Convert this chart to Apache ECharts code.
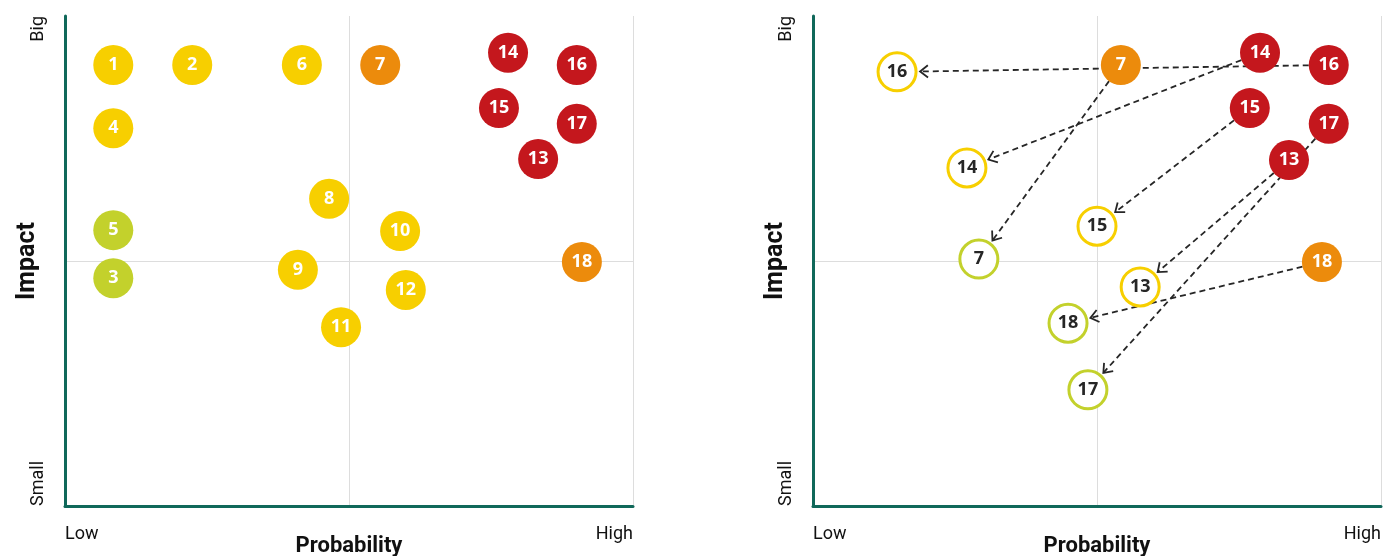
<!DOCTYPE html>
<html lang="en">
<head>
<meta charset="UTF-8">
<title>Risk matrix</title>
<script src="https://cdn.jsdelivr.net/npm/echarts@6/dist/echarts.min.js"></script>
<style>html,body{margin:0;padding:0;background:#fff}</style>
</head>
<body>
<div id="main" style="width:1386px;height:556px"></div>
<script>
    // left matrix: current risks
    const leftIds = ['1', '2', '3', '4', '5', '6', '7', '8', '9', '10', '11', '12', '13', '14', '15', '16', '17', '18'];
    const leftProb = [0.85, 2.24, 0.85, 0.85, 0.85, 4.17, 5.55, 4.65, 4.10, 5.90, 4.86, 6.00, 8.33, 7.80, 7.64, 9.01, 9.01, 9.10];
    const leftImpact = [9.0, 9.0, 4.65, 7.71, 5.63, 9.0, 9.0, 6.27, 4.82, 5.61, 3.65, 4.41, 7.08, 9.25, 8.12, 9.0, 7.80, 4.98];
    const leftLevel = ['medium', 'medium', 'low', 'medium', 'low', 'medium', 'high', 'medium', 'medium', 'medium',
        'medium', 'medium', 'critical', 'critical', 'critical', 'critical', 'critical', 'high'];

    // right matrix: before -> after mitigation
    const moveIds = ['16', '14', '7', '15', '13', '17', '18'];
    const beforeProb = [9.08, 7.87, 5.42, 7.69, 8.38, 9.08, 8.96];
    const beforeImpact = [9.0, 9.25, 9.0, 8.12, 7.06, 7.80, 4.98];
    const beforeLevel = ['critical', 'critical', 'high', 'critical', 'critical', 'critical', 'high'];
    const afterProb = [1.48, 2.71, 2.92, 5.0, 5.76, 4.84, 4.49];
    const afterImpact = [8.86, 6.90, 5.04, 5.71, 4.47, 2.37, 3.73];
    const afterLevel = ['medium', 'medium', 'low', 'medium', 'medium', 'low', 'low'];

    const probTicks = ['Low', '', 'High'];
    const impactTicks = ['Small', '', 'Big'];

    const COLORS = {low: '#c3d12c', medium: '#f7cf00', high: '#ec8b0c', critical: '#c4171d'};
    const AXIS = '#10685a';
    const DARK = '#262626';

    function xAxisFor(gridIndex) {
        return {
            gridIndex: gridIndex, type: 'value', min: 0, max: 10, interval: 5,
            name: 'Probability', nameLocation: 'middle', nameGap: 29, nameMoveOverlap: false,
            nameTextStyle: {fontFamily: 'Roboto', fontWeight: 'bold', fontSize: 22, color: '#111'},
            axisLine: {show: true, onZero: false, lineStyle: {color: AXIS, width: 3}},
            axisTick: {show: false},
            axisLabel: {
                margin: 19, fontFamily: 'Roboto', fontSize: 18, color: '#111',
                alignMinLabel: 'left', alignMaxLabel: 'right',
                formatter: v => probTicks[Math.round(v / 5)]
            },
            splitLine: {show: true, lineStyle: {color: '#dddddd', width: 1}}
        };
    }

    function yAxisFor(gridIndex) {
        return {
            gridIndex: gridIndex, type: 'value', min: 0, max: 10, interval: 5,
            name: 'Impact', nameLocation: 'middle', nameGap: 25, nameMoveOverlap: false,
            nameTextStyle: {fontFamily: 'Roboto', fontWeight: 'bold', fontSize: 25, color: '#111'},
            axisLine: {show: true, onZero: false, lineStyle: {color: AXIS, width: 3}},
            axisTick: {show: false},
            axisLabel: {
                margin: 18, rotate: 90, fontFamily: 'Roboto', fontSize: 18, color: '#111',
                alignMinLabel: 'left', alignMaxLabel: 'right',
                formatter: v => impactTicks[Math.round(v / 5)]
            },
            splitLine: {show: true, showMaxLine: false, lineStyle: {color: '#dddddd', width: 1}}
        };
    }

    function pointsOf(ids, xs, ys, levels, hollow) {
        return ids.map((id, i) => ({
            value: [xs[i], ys[i], id],
            itemStyle: hollow
                ? {opacity: 1, color: '#fff', borderColor: COLORS[levels[i]], borderWidth: 3}
                : {opacity: 1, color: COLORS[levels[i]]}
        }));
    }

    // dashed line with an open chevron, stopping just outside the target circle
    function renderArrow(params, api) {
        const p1 = api.coord([api.value(0), api.value(1)]);
        const p2 = api.coord([api.value(2), api.value(3)]);
        const dx = p2[0] - p1[0], dy = p2[1] - p1[1];
        const len = Math.sqrt(dx * dx + dy * dy);
        const ux = dx / len, uy = dy / len;
        const tip = [p2[0] - ux * 23, p2[1] - uy * 23];
        const a = 10, ang = 38 * Math.PI / 180;
        const c = Math.cos(ang), s = Math.sin(ang);
        const bx = -ux, by = -uy;
        const arm1 = [tip[0] + a * (bx * c - by * s), tip[1] + a * (bx * s + by * c)];
        const arm2 = [tip[0] + a * (bx * c + by * s), tip[1] + a * (-bx * s + by * c)];
        return {
            type: 'group',
            children: [
                {type: 'line', shape: {x1: p1[0], y1: p1[1], x2: tip[0], y2: tip[1]},
                    style: {stroke: DARK, lineWidth: 1.8, lineDash: [6, 4]}},
                {type: 'polyline', shape: {points: [arm1, tip, arm2]},
                    style: {stroke: DARK, lineWidth: 1.8, fill: null}}
            ]
        };
    }

    const labelStyle = {show: true, position: 'inside', formatter: p => p.value[2],
        fontFamily: 'Open Sans', fontWeight: 'bold', fontSize: 18, color: '#fff'};

    const chart = echarts.init(document.getElementById('main'));
    const option = {
        animation: false,
        grid: [
            {left: 65, top: 16, width: 568, height: 490, containLabel: false, outerBoundsMode: 'none'},
            {left: 813, top: 16, width: 568, height: 490, containLabel: false, outerBoundsMode: 'none'}
        ],
        xAxis: [xAxisFor(0), xAxisFor(1)],
        yAxis: [yAxisFor(0), yAxisFor(1)],
        series: [
            {
                type: 'scatter', xAxisIndex: 0, yAxisIndex: 0, z: 3,
                symbolSize: 40, itemStyle: {opacity: 1},
                data: pointsOf(leftIds, leftProb, leftImpact, leftLevel, false),
                label: labelStyle
            },
            {
                type: 'custom', xAxisIndex: 1, yAxisIndex: 1, z: 1,
                renderItem: renderArrow,
                encode: {x: [0, 2], y: [1, 3]},
                data: moveIds.map((id, i) => [beforeProb[i], beforeImpact[i], afterProb[i], afterImpact[i]])
            },
            {
                type: 'scatter', xAxisIndex: 1, yAxisIndex: 1, z: 3,
                symbolSize: 40, itemStyle: {opacity: 1},
                data: pointsOf(moveIds, beforeProb, beforeImpact, beforeLevel, false),
                label: labelStyle
            },
            {
                type: 'scatter', xAxisIndex: 1, yAxisIndex: 1, z: 3,
                symbolSize: 38, itemStyle: {opacity: 1},
                data: pointsOf(moveIds, afterProb, afterImpact, afterLevel, true),
                label: Object.assign({}, labelStyle, {color: DARK})
            }
        ]
    };
    chart.setOption(option);
</script>
</body>
</html>
